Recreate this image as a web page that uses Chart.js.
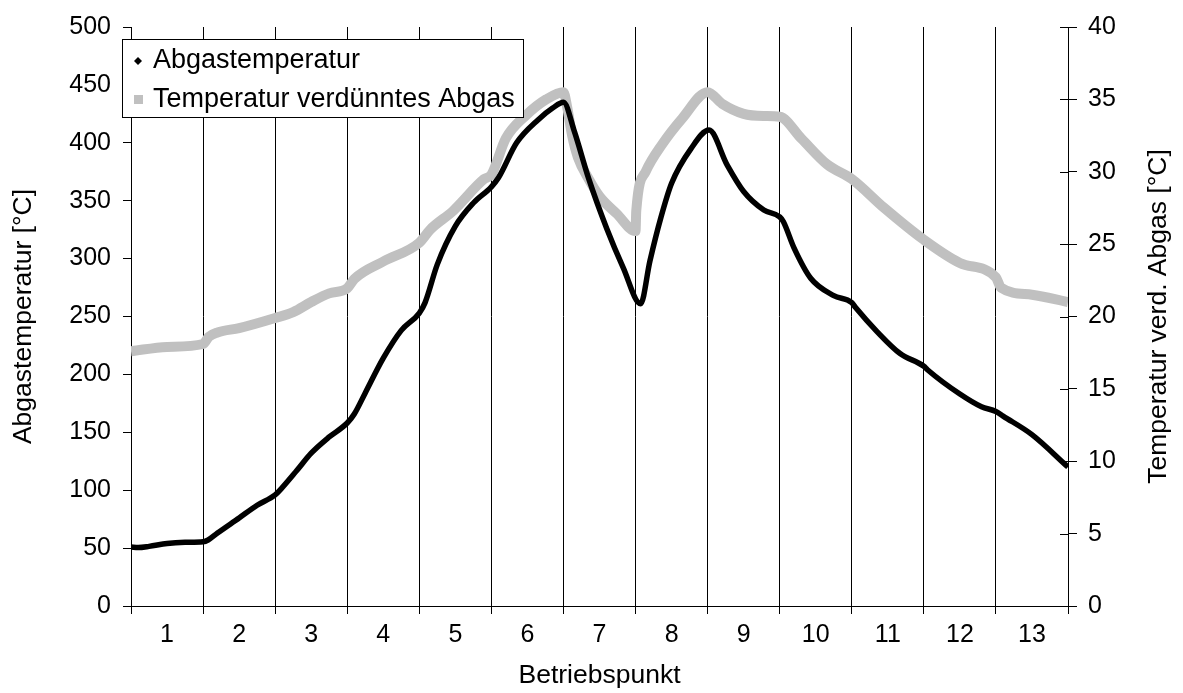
<!DOCTYPE html>
<html>
<head>
<meta charset="utf-8">
<script src="https://cdn.jsdelivr.net/npm/chart.js@4.4.0/dist/chart.umd.min.js"></script>
<style>
    body { margin: 0; background: #fff; }
</style>
</head>
<body>
<canvas id="myChart" width="1183" height="693"></canvas>
<script>
// Betriebspunkt 1..13
var punkt_ls = ['1', '2', '3', '4', '5', '6', '7', '8', '9', '10', '11', '12', '13'];

// Abgastemperatur [°C], left axis (x = position along Betriebspunkt, 0..13)
var abgas_x = [0, 0.1, 0.25, 0.5, 0.75, 1.0, 1.07, 1.2, 1.5, 1.75, 2.0, 2.08, 2.3, 2.5, 2.75, 3.0, 3.1, 3.25, 3.5, 3.75,
    4.0, 4.08, 4.25, 4.5, 4.75, 5.0, 5.1, 5.35, 5.65, 5.85, 6.0, 6.15, 6.35, 6.6, 6.83, 7.07, 7.2, 7.35, 7.5, 7.77,
    8.02, 8.27, 8.5, 8.78, 9.0, 9.05, 9.2, 9.43, 9.75, 10.0, 10.05, 10.35, 10.67, 11.0, 11.05, 11.5, 11.8, 12.0, 12.1, 12.5, 13.0];
var abgas_y = [51, 50.5, 51.5, 54, 55, 55.5, 57, 63, 76, 87, 96, 101, 117, 132, 146, 158, 166, 184, 214, 238,
    253, 262, 295, 328, 348, 362, 370, 400, 420, 430, 435, 410, 369, 326, 292, 261, 298, 335, 365, 395,
    411, 381, 358, 342, 336, 332, 309, 283, 268, 262, 258, 237, 218, 207, 204, 183, 172, 168, 164, 148, 120];

// Temperatur verdünntes Abgas [°C], right axis
var verd_x = [0, 0.5, 1.0, 1.08, 1.2, 1.5, 2.0, 2.25, 2.5, 2.75, 3.0, 3.1, 3.5, 4.0, 4.15, 4.47, 4.9, 5.0, 5.2, 5.48,
    5.76, 6.0, 6.05, 6.12, 6.2, 6.35, 6.5, 6.74, 7.0, 7.01, 7.14, 7.37, 7.65, 8.0, 8.2, 8.5, 8.78, 9.0, 9.3, 9.66,
    10.0, 10.45, 11.0, 11.5, 12.0, 12.07, 12.5, 13.0];
var verd_y = [17.6, 17.9, 18.1, 18.6, 18.9, 19.2, 19.9, 20.3, 21.0, 21.6, 21.95, 22.6, 23.8, 25.1, 26.0, 27.3, 29.5, 29.8, 32.3, 33.9,
    35.0, 35.5, 34.5, 32.5, 31.0, 29.5, 28.3, 27.1, 25.9, 27.3, 30.0, 31.9, 33.7, 35.5, 34.7, 34.0, 33.85, 33.8, 32.3, 30.5,
    29.5, 27.5, 25.3, 23.7, 22.7, 22.0, 21.5, 21.0];

var fontName = "'Liberation Sans', Arial, sans-serif";

function toPoints(xs, ys) {
    return xs.map(function (x, i) { return { x: x, y: ys[i] }; });
}

// right axis title (reads bottom to top), inner half of right ticks, legend box
var extrasPlugin = {
    id: 'extras',
    afterDraw: function (chart) {
        var ctx = chart.ctx;
        var y1 = chart.scales.y1;
        var area = chart.chartArea;
        ctx.save();
        ctx.strokeStyle = '#000';
        ctx.lineWidth = 1;
        y1.ticks.forEach(function (t) {
            var py = Math.round(y1.getPixelForValue(t.value)) + 0.5;
            ctx.beginPath();
            ctx.moveTo(area.right - 8, py);
            ctx.lineTo(area.right, py);
            ctx.stroke();
        });
        ctx.restore();

        ctx.save();
        ctx.translate(1159, (area.top + area.bottom) / 2);
        ctx.rotate(-Math.PI / 2);
        ctx.font = '26.5px ' + fontName;
        ctx.fillStyle = '#000';
        ctx.textAlign = 'center';
        ctx.textBaseline = 'middle';
        ctx.fillText('Temperatur verd. Abgas [°C]', 0, 0);
        ctx.restore();

        // legend
        ctx.save();
        ctx.fillStyle = '#fff';
        ctx.fillRect(122, 39, 401, 78);
        ctx.strokeStyle = '#000';
        ctx.lineWidth = 1;
        ctx.strokeRect(122.5, 39.5, 401, 78);
        ctx.fillStyle = '#000';
        ctx.beginPath();
        ctx.moveTo(138, 57);
        ctx.lineTo(142, 61);
        ctx.lineTo(138, 65);
        ctx.lineTo(134, 61);
        ctx.closePath();
        ctx.fill();
        ctx.fillStyle = '#c0c0c0';
        ctx.fillRect(134, 95, 9, 9);
        ctx.fillStyle = '#000';
        ctx.font = '27px ' + fontName;
        ctx.textAlign = 'left';
        ctx.textBaseline = 'alphabetic';
        ctx.fillText(chart.data.datasets[0].label, 153, 68);
        ctx.fillText(chart.data.datasets[1].label, 153, 107);
        ctx.restore();
    }
};

var canvas = document.getElementById('myChart');
var myChart = new Chart(canvas, {
    type: 'line',
    data: {
        datasets: [{
            label: 'Abgastemperatur',
            data: toPoints(abgas_x, abgas_y),
            yAxisID: 'y',
            borderColor: '#000',
            backgroundColor: '#000',
            borderWidth: 5.5,
            pointRadius: 0,
            cubicInterpolationMode: 'monotone',
            order: 0
        }, {
            label: 'Temperatur verdünntes Abgas',
            data: toPoints(verd_x, verd_y),
            yAxisID: 'y1',
            borderColor: '#c0c0c0',
            backgroundColor: '#c0c0c0',
            borderWidth: 10,
            pointRadius: 0,
            cubicInterpolationMode: 'monotone',
            order: 1
        }]
    },
    options: {
        responsive: false,
        animation: false,
        devicePixelRatio: 1,
        layout: {
            padding: { left: 5, right: 5, top: 25, bottom: 0 }
        },
        plugins: {
            legend: { display: false },
            tooltip: { enabled: false }
        },
        scales: {
            x: {
                type: 'linear',
                position: 'bottom',
                min: 0,
                max: 13,
                afterBuildTicks: function (s) {
                    s.ticks = punkt_ls.map(function (p, i) { return { value: i + 0.5 }; });
                },
                afterFit: function (s) { s.height = 87; },
                ticks: {
                    autoSkip: false,
                    maxRotation: 0,
                    padding: 6,
                    color: '#000',
                    font: { family: fontName, size: 25 },
                    callback: function (v, i) { return punkt_ls[i]; }
                },
                grid: { offset: true, color: '#000', lineWidth: 1, tickLength: 8 },
                border: { color: '#000', width: 1 },
                title: {
                    display: true,
                    text: 'Betriebspunkt',
                    color: '#000',
                    font: { family: fontName, size: 26.5 },
                    padding: { top: 0, bottom: 1 }
                }
            },
            y: {
                position: 'left',
                min: 0,
                max: 500,
                afterFit: function (s) { s.width = 126; },
                ticks: {
                    stepSize: 50,
                    padding: 12,
                    color: '#000',
                    font: { family: fontName, size: 25 }
                },
                grid: { drawOnChartArea: false, color: '#000', tickLength: 8 },
                border: { color: '#000', width: 1 },
                title: {
                    display: true,
                    text: 'Abgastemperatur [°C]',
                    color: '#000',
                    font: { family: fontName, size: 26.5 },
                    padding: { top: 3, bottom: 3 }
                }
            },
            y1: {
                position: 'right',
                min: 0,
                max: 40,
                afterFit: function (s) { s.width = 110; },
                ticks: {
                    stepSize: 5,
                    padding: 11,
                    color: '#000',
                    font: { family: fontName, size: 25 }
                },
                grid: { drawOnChartArea: false, color: '#000', tickLength: 9 },
                border: { color: '#000', width: 1 }
            }
        }
    },
    plugins: [extrasPlugin]
});
</script>
</body>
</html>
